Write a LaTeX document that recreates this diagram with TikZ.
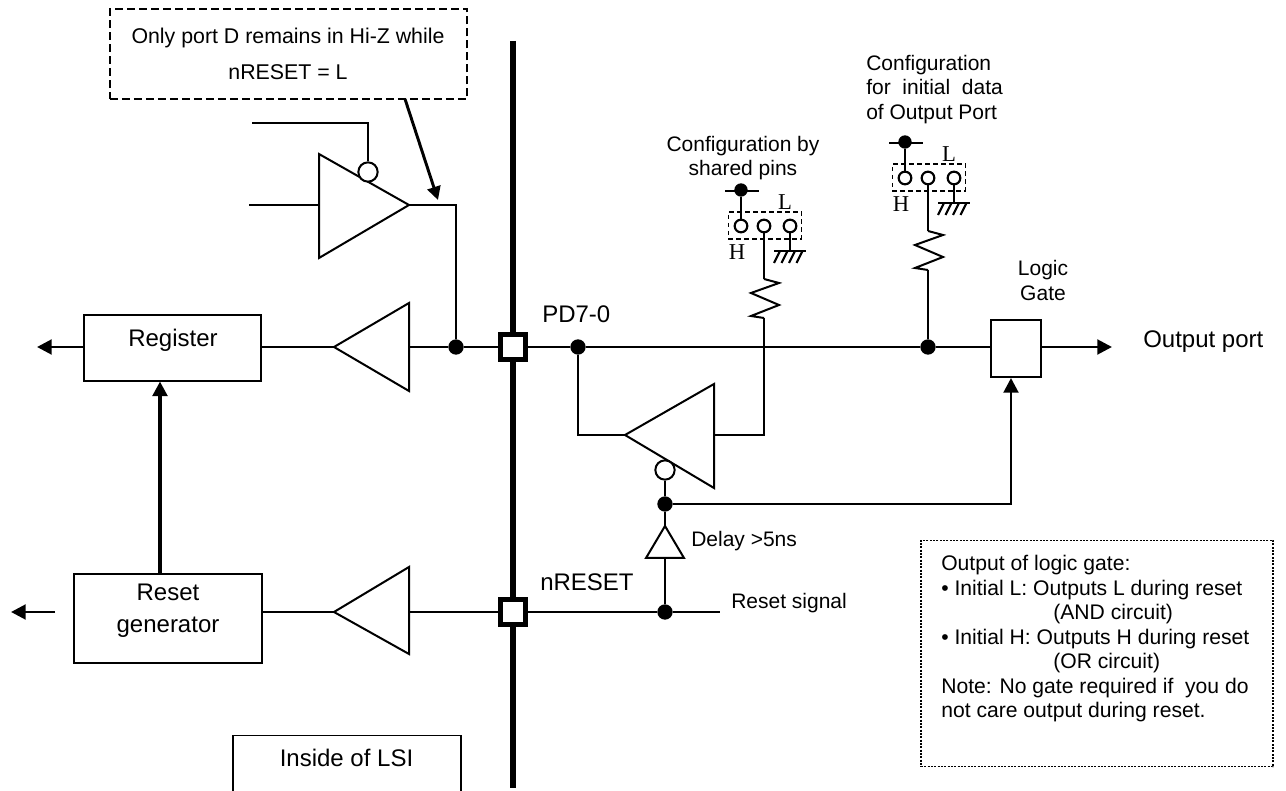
\documentclass[tikz,border=0pt]{standalone}
\usepackage{fontspec}
\setmainfont{Liberation Sans}
\newfontfamily\timesfont{Liberation Serif}
\usetikzlibrary{arrows.meta}
\tikzset{
  wire/.style={line width=1.5pt},
  fatwire/.style={line width=2.2pt},
  tipwire/.style={line width=2.2pt,-{Triangle[length=11pt,width=11pt]}},
  buf/.style={line width=1.5pt,fill=white,line join=miter},
  box/.style={draw,line width=1.5pt,fill=white,inner sep=0pt},
  dot/.style={circle,fill=black,inner sep=0pt,minimum size=11.5pt},
  sdot/.style={circle,fill=black,inner sep=0pt,minimum size=10pt},
  bub/.style={circle,draw,line width=1.5pt,fill=white,inner sep=0pt,minimum size=14.5pt},
  pin/.style={circle,draw,line width=1.6pt,fill=white,inner sep=0pt,minimum size=9.5pt},
  pad/.style={draw,line width=3.6pt,fill=white,inner sep=0pt,minimum size=18.4pt},
  lbl/.style={inner sep=0pt,font=\fontsize{15.75}{18.4}\selectfont},
  biglbl/.style={inner sep=0pt,font=\fontsize{18}{24}\selectfont},
  serif/.style={inner sep=0pt,font=\timesfont\fontsize{17}{18}\selectfont}
}
\begin{document}
\begin{tikzpicture}[x=0.75pt,y=-0.75pt]
  \useasboundingbox (0,0) rectangle (1286,791);
  % LSI boundary
  \coordinate (bustop) at (513,41);
  \coordinate (busbot) at (513,788);
  \draw[line width=4.6pt] (bustop) -- (busbot);
  \node[pad] (pd) at (513,347) {};
  \node[pad] (nrst) at (513,612) {};
  \node[biglbl,anchor=west] at (542,314) {PD7-0};
  \node[biglbl,anchor=west] at (540,582) {nRESET};
  % note on top
  \node[box,dash pattern=on 6pt off 3pt,minimum width=268pt,minimum height=67.5pt] (note) at (288.5,54) {};
  \node[lbl,font=\fontsize{16}{18.4}\selectfont] at (288,38) {Only port D remains in Hi-Z while};
  \node[lbl,font=\fontsize{16}{18.4}\selectfont] at (288,72) {nRESET = L};
  % tristate driver at the top
  \coordinate (ta) at (319,154);
  \coordinate (tb) at (319,258);
  \coordinate (tc) at (409,205);
  \draw[buf] (ta) -- (tc) -- (tb) -- cycle;
  \node[bub] (tbub) at (368,172) {};
  \coordinate (en0) at (252,123);
  \coordinate (in0) at (249,205);
  \coordinate (outbend) at (456,205);
  \node[dot] (j1) at (456,347) {};
  \draw[wire] (en0) -| (tbub);
  \draw[wire] (in0) -- (319,205);
  \draw[wire] (tc) -- (outbend) -- (j1);
  \coordinate (notefoot) at (405,99);
  \coordinate (notetip) at (438,200);
  \draw[fatwire,-{Triangle[length=10pt,width=10pt]}] (notefoot) -- (notetip);
  % receiver and register
  \coordinate (ra) at (409,303);
  \coordinate (rb) at (409,391);
  \coordinate (rc) at (334,347);
  \draw[buf] (ra) -- (rc) -- (rb) -- cycle;
  \node[box,minimum width=132.75pt,minimum height=49.5pt] (reg) at (172.5,348) {};
  \node[biglbl] at (173,340) {Register};
  \coordinate (regout) at (37,347);
  \draw[tipwire] (reg.west |- rc) -- (regout);
  \draw[wire] (reg.east |- rc) -- (rc);
  \draw[wire] (409,347) -- (j1) -- (pd);
  % reset receiver and generator
  \coordinate (sa) at (409,567);
  \coordinate (sb) at (409,654);
  \coordinate (sc) at (334,612);
  \draw[buf] (sa) -- (sc) -- (sb) -- cycle;
  \node[box,minimum width=141pt,minimum height=66.75pt] (gen) at (168,618.5) {};
  \node[biglbl,align=center] at (168,611) {Reset\\generator};
  \draw[wire] (gen.east |- sc) -- (sc);
  \draw[wire] (409,612) -- (nrst);
  \coordinate (gena) at (55,612);
  \coordinate (genb) at (11,612);
  \draw[tipwire] (gena) -- (genb);
  \coordinate (genup) at (160,574);
  \coordinate (regin) at (160,381.5);
  \draw[tipwire,line width=2.6pt] (genup) -- (regin);
  % reset line
  \node[dot] (j2) at (665,612) {};
  \coordinate (rstend) at (720,612);
  \draw[wire] (nrst) -- (j2) -- (rstend);
  \node[lbl,anchor=west] at (731,603) {Reset signal};
  \coordinate (da) at (665,526);
  \coordinate (db) at (646,558);
  \coordinate (dc) at (684,558);
  \draw[buf] (da) -- (db) -- (dc) -- cycle;
  \draw[wire] (j2) -- (665,558);
  \node[lbl,anchor=west] at (691,541) {Delay >5ns};
  % tristate driver on the port
  \coordinate (pa) at (714,384);
  \coordinate (pb) at (714,488);
  \coordinate (pc) at (625,435);
  \draw[buf] (pa) -- (pc) -- (pb) -- cycle;
  \node[bub] (pbub) at (665,470) {};
  \node[dot] (j3) at (665,504) {};
  \draw[wire] (pbub) -- (j3) -- (da);
  \node[dot] (j4) at (578,347) {};
  \node[dot] (j5) at (928,347) {};
  \node[box,minimum width=37.5pt,minimum height=43pt] (gate) at (1016,348.5) {};
  \node[lbl,align=center] at (1043,280.5) {Logic\\Gate};
  \draw[wire] (pd) -- (j4) -- (j5) -- (gate.west |- j5);
  \draw[wire] (j4) |- (pc);
  \draw[wire] (714,435) -| (764,347);
  \coordinate (gatein) at (1011,378);
  \draw[tipwire] (j3) -| (gatein);
  \coordinate (portout) at (1112,347);
  \draw[tipwire] (gate.east |- portout) -- (portout);
  \node[biglbl,anchor=west] at (1143,342) {Output port};
  % the two configuration straps
  \foreach \cfg/\dx/\dy in {s/0/0,i/164/-48}{
    \begin{scope}[shift={(\dx,\dy)}]
      \node[box,dash pattern=on 3.5pt off 2.5pt,line width=1.1pt,fill=none,minimum width=55pt,minimum height=20pt] (\cfg box) at (765,225.5) {};
      \node[pin] (\cfg hi) at (741,226) {};
      \node[pin] (\cfg mid) at (764,226) {};
      \node[pin] (\cfg lo) at (790,226) {};
      \node[sdot] (\cfg vcc) at (741,190) {};
      \coordinate (\cfg bara) at (725,191);
      \coordinate (\cfg barb) at (759,191);
      \coordinate (\cfg gnd) at (790,251);
      \coordinate (\cfg gnda) at (774,251);
      \coordinate (\cfg gndb) at (806,251);
      \draw[fatwire] (\cfg bara) -- (\cfg barb);
      \draw[wire] (\cfg vcc) -- (\cfg hi);
      \draw[wire] (\cfg lo) -- (\cfg gnd);
      \draw[fatwire] (\cfg gnda) -- (\cfg gndb);
      \foreach \h in {0,7.5,15,22.5}
        \draw[line width=1.6pt] (780+\h,251) -- (774+\h,263);
      \coordinate (\cfg rtop) at (764,279);
      \coordinate (\cfg rbot) at (764,318);
      \draw[wire] (\cfg mid) -- (\cfg rtop);
      \draw[wire,line join=miter] (\cfg rtop) -- (779,283) -- (751,293) -- (779,305) -- (751,316) -- (\cfg rbot);
      \node[serif] at (785,202) {L};
      \node[serif] at (737,252) {H};
    \end{scope}
  }
  \draw[wire] (srbot) -- (764,347);
  \draw[wire] (irbot) -- (j5);
  \node[lbl,align=center] at (743,158) {Configuration by\\shared pins};
  \node[lbl,align=left,anchor=west] at (866,89.5) {Configuration\\for\ \ initial\ \ data\\of Output Port};
  % boxes with remarks
  \node[box,densely dotted,line width=0.8pt,minimum width=264pt,minimum height=170pt] (remark) at (1097,653.5) {};
  \node[lbl,font=\fontsize{15.85}{18.4}\selectfont,align=left,anchor=north west] at (941,555) {Output of logic gate:\\
    • Initial L: Outputs L during reset\\
    \hspace*{84pt}(AND circuit)\\
    • Initial H: Outputs H during reset\\
    \hspace*{84pt}(OR circuit)\\
    Note: No gate required if\ \ you do\\
    not care output during reset.};
  \node[box,line width=0.8pt,minimum width=171pt,minimum height=50pt] (lsi) at (347,769) {};
  \node[biglbl] at (346.5,758) {Inside of LSI};
\end{tikzpicture}
\end{document}
